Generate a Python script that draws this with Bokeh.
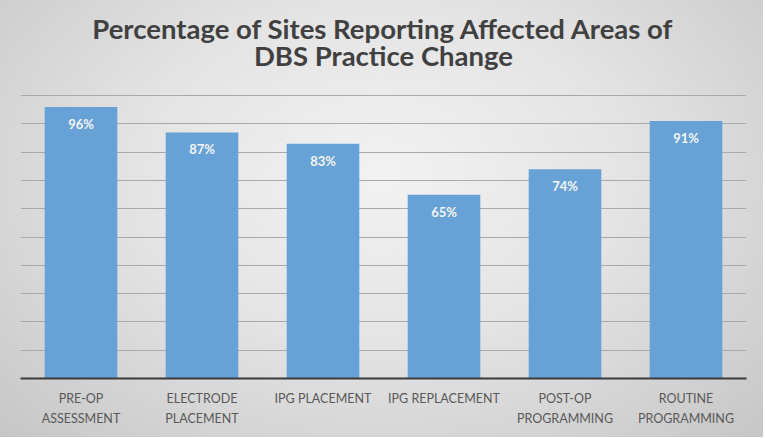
from bokeh.plotting import figure
from bokeh.models import FactorRange, Range1d, FixedTicker, Title, ColumnDataSource
from bokeh.core.properties import value
from bokeh.embed import file_html
from bokeh.resources import INLINE

categories = ["PRE-OP\nASSESSMENT", "ELECTRODE\nPLACEMENT", "IPG PLACEMENT",
              "IPG REPLACEMENT", "POST-OP\nPROGRAMMING", "ROUTINE\nPROGRAMMING"]
percentages = [96, 87, 83, 65, 74, 91]
value_labels = [f"{v}%" for v in percentages]
grid_ticks = [10, 20, 30, 40, 50, 60, 70, 80, 90, 100]
title_line1 = "Percentage of Sites Reporting Affected Areas of"
title_line2 = "DBS Practice Change"

source = ColumnDataSource(dict(cat=categories, pct=percentages, lbl=value_labels))

p = figure(width=763, height=437, output_backend="svg", toolbar_location=None,
           x_range=FactorRange(factors=categories, range_padding=0),
           y_range=Range1d(0, 100.4),
           min_border_left=20, min_border_right=17, min_border_top=94, min_border_bottom=59)

p.background_fill_color = None
p.border_fill_color = None
p.outline_line_color = None
p.styles = {"background": "radial-gradient(ellipse at 50% 40%, #f2f2f2 0%, #e4e4e4 45%, #c6c6c6 100%)"}

t2 = Title(text=title_line2, align="center", text_font="Lato", text_font_size="27.5px",
           text_font_style="bold", text_color="#404040", standoff=46, text_line_height=1.0)
p.add_layout(t2, "above")
t1 = Title(text=title_line1, align="center", text_font="Lato", text_font_size="27.5px",
           text_font_style="bold", text_color="#404040", standoff=-62, text_line_height=1.0)
p.add_layout(t1, "above")

p.vbar(x="cat", top="pct", width=0.6, source=source, fill_color="#67A2D7", line_color=None)
p.text(x="cat", y="pct", text="lbl", source=source, text_align="center", text_baseline="top",
       y_offset=9, text_color="#f4f4f4", text_font=value("Lato"), text_font_size="13px",
       text_font_style="bold")

p.yaxis.visible = False
p.xgrid.grid_line_color = None
p.ygrid.ticker = FixedTicker(ticks=grid_ticks)
p.ygrid.grid_line_color = "#a9a9a9"
p.ygrid.grid_line_width = 1

xa = p.xaxis[0]
xa.axis_line_color = "#3a3a3a"
xa.axis_line_width = 2
xa.major_tick_line_color = None
xa.minor_tick_line_color = None
xa.major_label_text_font = "Lato"
xa.major_label_text_font_size = "12.5px"
xa.major_label_text_color = "#595959"
xa.major_label_standoff = 6
xa.major_label_text_line_height = 1.35
xa.major_label_orientation = "horizontal"

open("out.html", "w").write(file_html(p, INLINE))
